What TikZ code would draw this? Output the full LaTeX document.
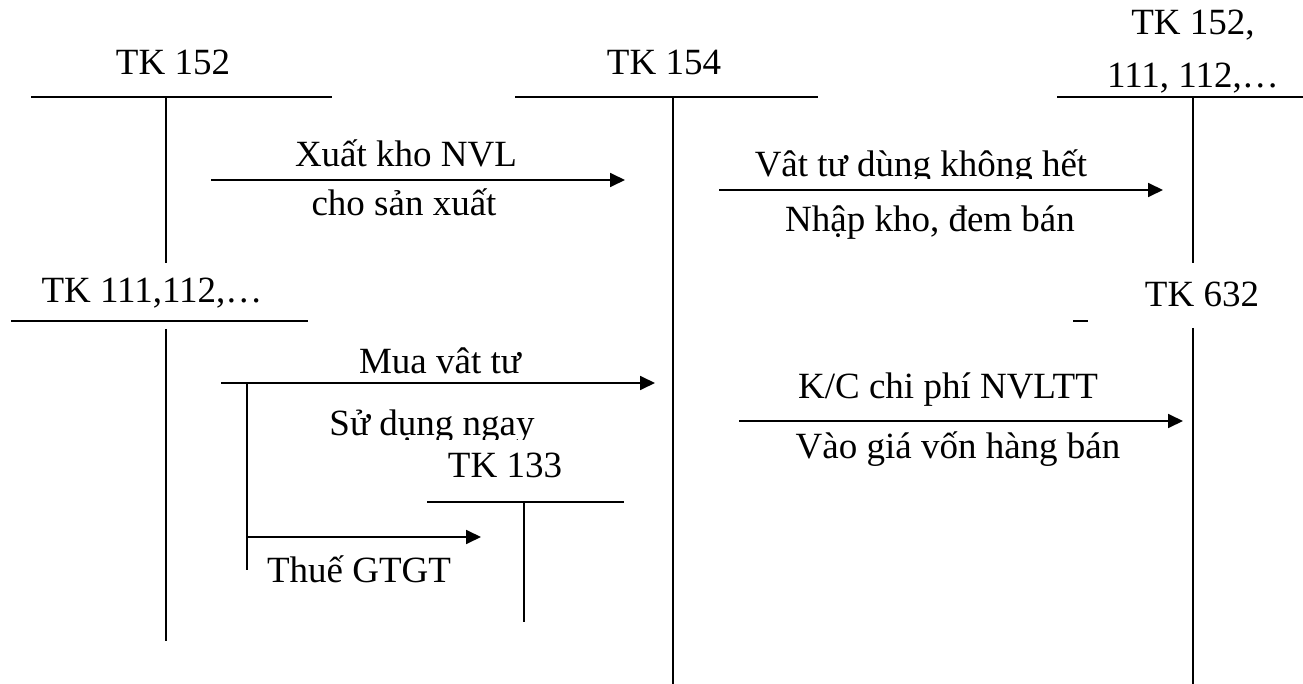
\documentclass[tikz,border=0pt]{standalone}
\usepackage{fontspec}
\setmainfont{Liberation Serif}
\usetikzlibrary{arrows.meta}
\begin{document}
\begin{tikzpicture}[x=1pt,y=-1pt,
  acct/.style={line width=1.8pt},
  flow/.style={line width=1.8pt,-{Triangle[length=15pt,width=14pt]}},
  lbl/.style={anchor=base,inner sep=0pt,font=\fontsize{37}{42}\selectfont}]
\useasboundingbox (0,0) rectangle (1303,684);

% T-account TK 152
\node[lbl] (t152) at (173,75) {TK 152};
\draw[acct] (31,97) -- (332,97);
\draw[acct] (166,97) -- (166,263);

% T-account TK 154
\node[lbl] (t154) at (664,75) {TK 154};
\draw[acct] (515,97) -- (818,97);
\draw[acct] (673,97) -- (673,684);

% T-account TK 152, 111, 112
\node[lbl] (t152b) at (1193,35) {TK 152,};
\node[lbl] (t111b) at (1193,88) {111, 112,\ldots};
\draw[acct] (1057,97) -- (1303,97);
\draw[acct] (1193,97) -- (1193,263);

% T-account TK 111, 112
\node[lbl] (t111) at (152,303) {TK 111,112,\ldots};
\draw[acct] (11,321) -- (308,321);
\draw[acct] (166,329) -- (166,641);

% T-account TK 632
\node[lbl] (t632) at (1202,307) {TK 632};
\draw[acct] (1073,321) -- (1088,321);
\draw[acct] (1193,328) -- (1193,684);

% T-account TK 133
\node[lbl] (t133) at (505,477) {TK 133};
\draw[acct] (427,502) -- (624,502);
\draw[acct] (524,502) -- (524,622);

% Flow endpoints
\coordinate (a1s) at (211,180);  \coordinate (a1e) at (625,180);
\coordinate (a2s) at (719,190);  \coordinate (a2e) at (1163,190);
\coordinate (a3s) at (221,383);  \coordinate (a3e) at (655,383);
\coordinate (a4s) at (247,537);  \coordinate (a4e) at (481,537);
\coordinate (a5s) at (739,421);  \coordinate (a5e) at (1183,421);
\coordinate (b3s) at (247,383);  \coordinate (b3e) at (247,570);

% Flows
\draw[flow] (a1s) -- (a1e);
\draw[flow] (a2s) -- (a2e);
\draw[flow] (a3s) -- (a3e);
\draw[acct] (b3s) -- (b3e);
\draw[flow] (a4s) -- (a4e);
\draw[flow] (a5s) -- (a5e);

% Flow labels
\node[lbl] (l1a) at (406,167) {Xuất kho NVL};
\node[lbl] (l1b) at (404,216) {cho sản xuất};
\begin{scope}
  \clip (700,120) rectangle (1170,179);
  \node[lbl] (l2a) at (921,177) {Vât tư dùng không hết};
\end{scope}
\node[lbl] (l2b) at (930,232) {Nhập kho, đem bán};
\node[lbl] (l3a) at (440,373) {Mua vât tư};
\begin{scope}
  \clip (300,390) rectangle (600,439);
  \node[lbl] (l3b) at (432,435) {Sử dụng ngay};
\end{scope}
\node[lbl] (l4) at (359,582) {Thuế GTGT};
\node[lbl] (l5a) at (948,398) {K/C chi phí NVLTT};
\node[lbl] (l5b) at (958,458) {Vào giá vốn hàng bán};
\end{tikzpicture}
\end{document}
